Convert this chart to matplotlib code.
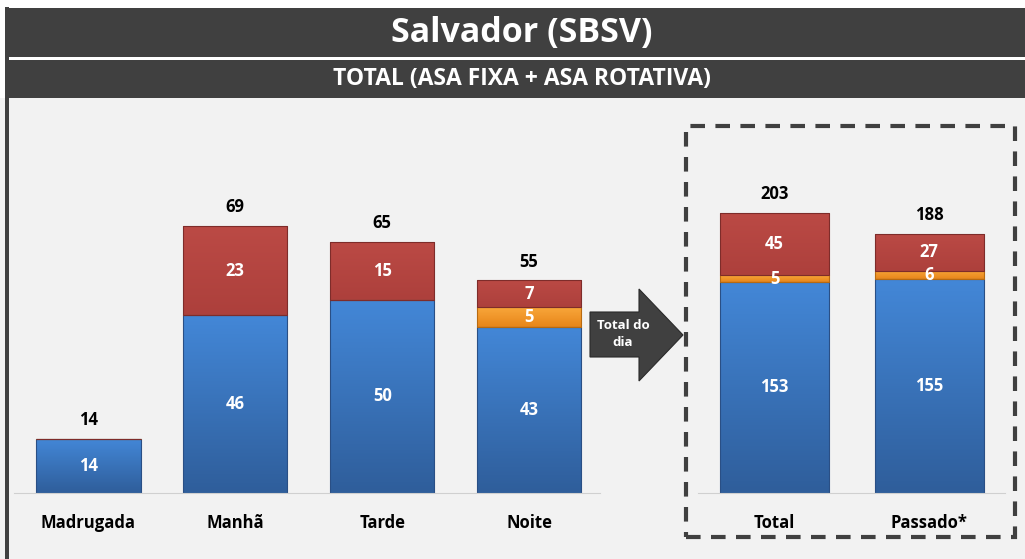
import numpy as np
import matplotlib.pyplot as plt
import matplotlib.patches as patches
from matplotlib.colors import LinearSegmentedColormap

W, H = 1025, 559

# Daten
periodos = ["Madrugada", "Manhã", "Tarde", "Noite"]
azul_periodo = [14, 46, 50, 43]
laranja_periodo = [0, 0, 0, 5]
vermelho_periodo = [0, 23, 15, 7]
total_periodo = [14, 69, 65, 55]

resumo = ["Total", "Passado*"]
azul_resumo = [153, 155]
laranja_resumo = [5, 6]
vermelho_resumo = [45, 27]
total_resumo = [203, 188]

ESCURO = "#404040"
# (oben, unten, Rand)
AZUL = ("#4387d7", "#2f5e9b", "#2a4f85")
LARANJA = ("#f8a63a", "#e8861a", "#b86a10")
VERMELHO = ("#bb4a45", "#ad403c", "#7e2c2a")

plt.rcParams["font.family"] = ["Open Sans", "DejaVu Sans"]


def px(x0, y0, x1, y1):
    # Pixel-Rechteck (von oben gemessen) -> Figurkoordinaten
    return [x0 / W, 1 - y1 / H, (x1 - x0) / W, (y1 - y0) / H]


fig = plt.figure(figsize=(W / 100, H / 100), dpi=100)
fig.patch.set_facecolor("white")

# Hintergrund und Kopfzeilen
fig.patches.append(patches.Rectangle((0, 0), 1, 1 - 98 / H, transform=fig.transFigure,
                                     facecolor="#f2f2f2", edgecolor="none", zorder=-2))
fig.patches.append(patches.Rectangle((5 / W, 1 - 57 / H), 1, 49 / H, transform=fig.transFigure,
                                     facecolor=ESCURO, edgecolor="none", zorder=-1))
fig.patches.append(patches.Rectangle((5 / W, 1 - 98 / H), 1, 38 / H, transform=fig.transFigure,
                                     facecolor=ESCURO, edgecolor="none", zorder=-1))
fig.patches.append(patches.Rectangle((5 / W, 0), 4 / W, 1 - 7 / H, transform=fig.transFigure,
                                     facecolor=ESCURO, edgecolor="none", zorder=-1))
fig.text(522 / W, 1 - 33 / H, "Salvador (SBSV)", color="white", fontsize=24.5,
         fontweight="bold", ha="center", va="center")
fig.text(522 / W, 1 - 79 / H, "TOTAL (ASA FIXA + ASA ROTATIVA)", color="white",
         fontsize=16.5, fontweight="bold", ha="center", va="center")

grad = np.linspace(0, 1, 64).reshape(-1, 1)


def pintar(ax, conteiner, cores):
    # Farbverlauf von oben (hell) nach unten (dunkel) in jedem Balken
    cmap = LinearSegmentedColormap.from_list("g", [cores[0], cores[1]])
    for r in conteiner:
        if r.get_height() <= 0:
            continue
        x0, y0, w, h = r.get_x(), r.get_y(), r.get_width(), r.get_height()
        im = ax.imshow(grad, cmap=cmap, aspect="auto", extent=[x0, x0 + w, y0, y0 + h],
                       origin="upper", zorder=1.5, interpolation="bilinear")
        im.set_clip_path(r)


def barras(ax, nomes, azul, laranja, vermelho, total, ymax, width):
    x = range(len(nomes))
    base_l = azul
    base_v = [a + b for a, b in zip(azul, laranja)]
    for vals, base, cores in [(azul, None, AZUL), (laranja, base_l, LARANJA),
                              (vermelho, base_v, VERMELHO)]:
        b = ax.bar(x, vals, bottom=base, width=width, color=cores[1],
                   edgecolor=cores[2], linewidth=0.8, zorder=2)
        for r in b:
            r.set_facecolor("none")
        pintar(ax, b, cores)
    for i in x:
        ax.text(i, azul[i] / 2, str(azul[i]), ha="center", va="center",
                color="white", fontsize=12, fontweight="bold", zorder=3)
        if laranja[i]:
            ax.text(i, base_l[i] + laranja[i] / 2, str(laranja[i]), ha="center",
                    va="center", color="white", fontsize=12, fontweight="bold", zorder=3)
        if vermelho[i]:
            ax.text(i, base_v[i] + vermelho[i] / 2, str(vermelho[i]), ha="center",
                    va="center", color="white", fontsize=12, fontweight="bold", zorder=3)
        ax.text(i, total[i] + ymax * 0.025, str(total[i]), ha="center", va="bottom",
                color="black", fontsize=12, fontweight="bold")
    ax.set_ylim(0, ymax)
    ax.set_facecolor("none")
    for s in ["top", "right", "left"]:
        ax.spines[s].set_visible(False)
    ax.spines["bottom"].set_color("#d0d0d0")
    ax.set_yticks([])
    ax.set_xticks(list(x))
    ax.set_xticklabels(nomes, fontsize=12, fontweight="bold")
    ax.tick_params(axis="x", length=0, pad=15)


ax1 = fig.add_axes(px(14, 110, 600, 493))
barras(ax1, periodos, azul_periodo, laranja_periodo, vermelho_periodo, total_periodo, 99, 0.71)
ax1.set_xlim(-0.507, 3.483)

ax2 = fig.add_axes(px(698, 110, 1005, 493))
barras(ax2, resumo, azul_resumo, laranja_resumo, vermelho_resumo, total_resumo, 277.7, 0.705)
ax2.set_xlim(-0.495, 1.49)

# Seta "Total do dia"
seta = [(590, 312), (639, 312), (639, 289), (683, 335), (639, 381), (639, 357), (590, 357)]
fig.patches.append(patches.Polygon([(a / W, 1 - b / H) for a, b in seta], closed=True,
                                   transform=fig.transFigure, facecolor=ESCURO,
                                   edgecolor="#2a2a2a", linewidth=0.8, zorder=3))
fig.text(623 / W, 1 - 334 / H, "Total do\ndia", color="white", fontsize=9.5,
         fontweight="bold", ha="center", va="center", linespacing=1.4, zorder=4)

# Gestrichelter Rahmen
fig.patches.append(patches.Rectangle((686 / W, 1 - 537 / H), 329 / W, 411 / H,
                                     transform=fig.transFigure, fill=False,
                                     edgecolor=ESCURO, linewidth=3,
                                     linestyle=(0, (3.5, 2.5)), zorder=3))

fig.savefig("out.png", dpi=100)
